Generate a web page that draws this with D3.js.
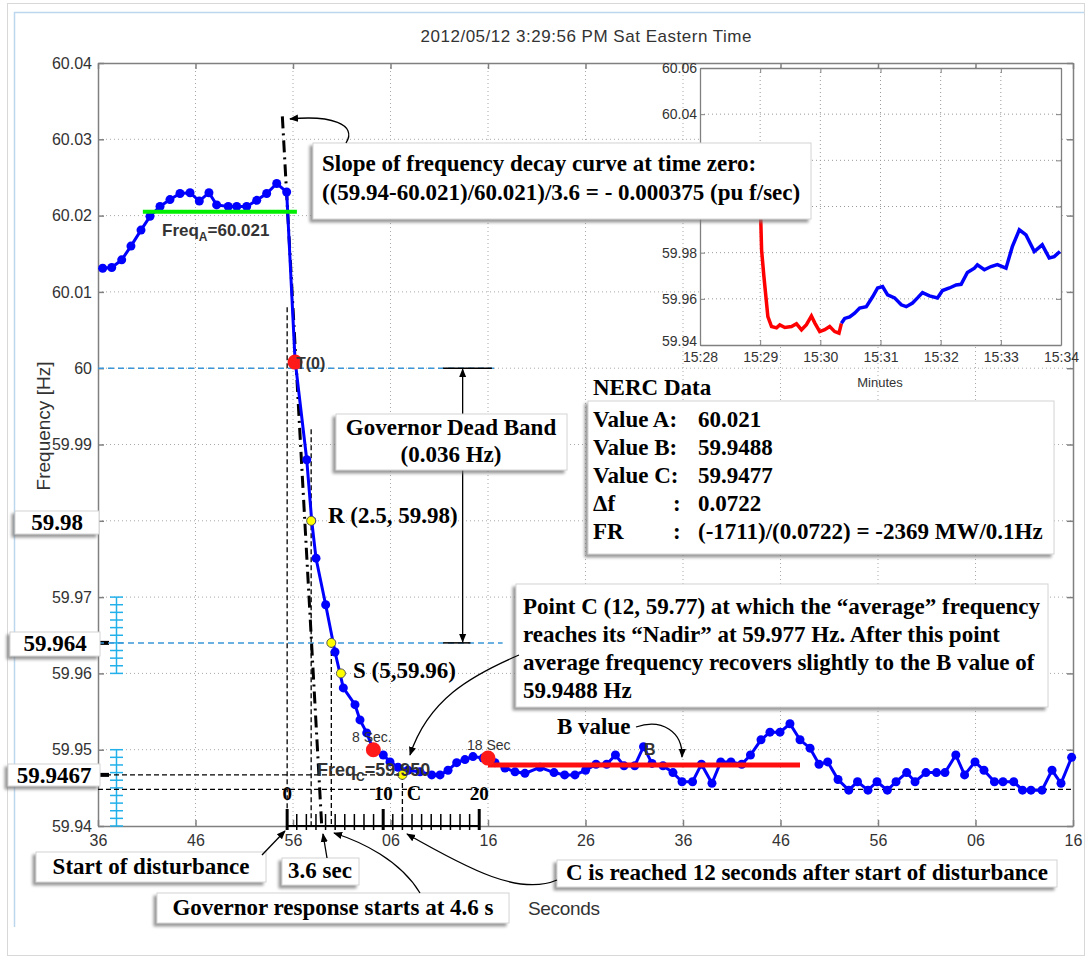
<!DOCTYPE html>
<html>
<head>
<meta charset="utf-8">
<script src="https://cdn.jsdelivr.net/npm/d3@7"></script>
<style>
body { margin: 0; background: #fff; }
.gray { font-family: "Liberation Sans", Arial, sans-serif; fill: #333; }
.serif { font-family: "Liberation Serif", "Times New Roman", serif; font-weight: bold; fill: #000; }
</style>
</head>
<body>
<svg id="chart" width="1090" height="960"></svg>
<script>
// main trace: seconds after 15:29:36 and frequency (Hz)
var mainTime = [0.48, 1.41, 2.43, 3.38, 4.41, 5.33, 6.36, 7.38, 8.41, 9.44,
    10.39, 11.38, 12.17, 13.36, 14.23, 15.25, 16.28, 17.30, 18.33, 19.35,
    20.21, 21.41, 21.92, 22.36, 23.35, 24.31, 25.16, 26.36, 26.87, 27.56,
    28.24, 29.26, 29.95, 30.77, 31.79, 33.03, 34.23, 35.08, 35.90, 36.79,
    37.64, 38.46, 39.49, 40.00, 40.72, 41.74, 42.77, 43.79, 45.33, 46.77,
    47.86, 48.92, 50.01, 51.08, 52.17, 53.07, 53.95, 55.05, 55.95, 56.82,
    57.95, 58.97, 59.90, 60.98, 61.89, 62.97, 63.87, 64.92, 66.03, 66.92,
    68.00, 68.92, 69.95, 70.97, 72.00, 73.03, 73.95, 74.84, 75.90, 77.00,
    77.90, 78.97, 79.90, 80.96, 81.85, 82.94, 83.80, 84.92, 86.00, 86.87,
    87.98, 88.88, 89.95, 90.87, 91.94, 92.82, 93.92, 94.82, 95.69, 96.82,
    97.85, 98.77, 99.86];
var mainFreq = [60.0131, 60.0132, 60.0142, 60.0160, 60.0181, 60.0199, 60.0212, 60.0221, 60.0229, 60.0230,
    60.0219, 60.0230, 60.0214, 60.0212, 60.0212, 60.0212, 60.0220, 60.0229, 60.0242, 60.0231,
    60.0011, 59.9880, 59.9800, 59.9751, 59.9690, 59.9628, 59.9581, 59.9559, 59.9539, 59.9522,
    59.9500, 59.9493, 59.9484, 59.9477, 59.9473, 59.9471, 59.9467, 59.9467, 59.9473, 59.9483,
    59.9487, 59.9491, 59.9489, 59.9489, 59.9483, 59.9476, 59.9471, 59.9469, 59.9477, 59.9470,
    59.9467, 59.9467, 59.9473, 59.9481, 59.9481, 59.9493, 59.9479, 59.9479, 59.9504, 59.9482,
    59.9479, 59.9470, 59.9458, 59.9458, 59.9481, 59.9456, 59.9484, 59.9484, 59.9481, 59.9493,
    59.9513, 59.9523, 59.9523, 59.9534, 59.9513, 59.9502, 59.9481, 59.9484, 59.9461, 59.9447,
    59.9458, 59.9447, 59.9458, 59.9447, 59.9458, 59.9470, 59.9458, 59.9470, 59.9470, 59.9470,
    59.9493, 59.9467, 59.9484, 59.9473, 59.9458, 59.9458, 59.9458, 59.9447, 59.9447, 59.9447,
    59.9473, 59.9456, 59.9490];

var xTickValues = [0, 10, 20, 30, 40, 50, 60, 70, 80, 90, 100];
var xTickLabels = ["36", "46", "56", "06", "16", "26", "36", "46", "56", "06", "16"];
var yTickValues = [59.94, 59.95, 59.96, 59.97, 59.98, 59.99, 60, 60.01, 60.02, 60.03, 60.04];
var yTickLabels = ["59.94", "59.95", "59.96", "59.97", "", "59.99", "60", "60.01", "60.02", "60.03", "60.04"]; // 59.98 sits under its box

// reference levels
var freqA = 60.0205, freqALine = [4.6, 20.4];
var freqB = 59.948, freqBLine = [40.0, 72.0];
var deadBandTop = 60.0, deadBandBottom = 59.964;
var valueC = 59.9467, lowLine = 59.9448;

// seconds-after-disturbance sub axis
var subTicks = d3.range(0, 21);
var subLabels = [0, 10, 20];
var redDots = [{t: 20.21, f: 60.0008}, {t: 28.24, f: 59.9500}, {t: 40.0, f: 59.9489}];
var yellowDots = [{s: 2.5, f: 59.98}, {s: 4.6, f: 59.964}, {s: 5.6, f: 59.96}, {s: 12, f: 59.9467}];

// inset: minutes after 15:28
var insetRedMin = [1.000, 1.007, 1.024, 1.061, 1.128, 1.189, 1.272, 1.327, 1.410, 1.521, 1.604, 1.687, 1.769, 1.852, 1.907, 1.990, 2.073, 2.156, 2.239, 2.310, 2.350];
var insetRedFreq = [60.021, 59.997, 59.981, 59.970, 59.9523, 59.948, 59.9474, 59.9487, 59.9476, 59.948, 59.9492, 59.9466, 59.9488, 59.9526, 59.9496, 59.9458, 59.9466, 59.948, 59.9458, 59.9451, 59.9494];
var insetBlueMin = [2.350, 2.405, 2.488, 2.570, 2.653, 2.764, 2.869, 2.952, 3.035, 3.118, 3.234, 3.345, 3.428, 3.532, 3.615, 3.698, 3.814, 3.947, 4.030, 4.146, 4.257, 4.340, 4.444, 4.561, 4.610, 4.726, 4.837, 4.942, 5.086, 5.191, 5.307, 5.418, 5.556, 5.688, 5.804, 5.887, 5.982];
var insetBlueFreq = [59.9494, 59.9515, 59.9522, 59.9538, 59.956, 59.9566, 59.9609, 59.9647, 59.9653, 59.9617, 59.9604, 59.9574, 59.9566, 59.9582, 59.9604, 59.9627, 59.9613, 59.9604, 59.9636, 59.9647, 59.966, 59.9663, 59.9714, 59.9733, 59.9747, 59.9726, 59.974, 59.9748, 59.9733, 59.9826, 59.9899, 59.9877, 59.9805, 59.9834, 59.9777, 59.9783, 59.9805];
var insetXTicks = [0, 1, 2, 3, 4, 5, 6];
var insetXLabels = ["15:28", "15:29", "15:30", "15:31", "15:32", "15:33", "15:34"];
var insetYTicks = [59.94, 59.96, 59.98, 60.00, 60.02, 60.04, 60.06];
var insetYLabels = ["59.94", "59.96", "59.98", "", "", "60.04", "60.06"]; // 60.00 and 60.02 hidden by the slope box

var svg = d3.select("#chart");
var defs = svg.append("defs");
defs.append("filter").attr("id", "shadow")
    .attr("x", "-10%").attr("y", "-20%").attr("width", "120%").attr("height", "150%")
    .append("feDropShadow")
    .attr("dx", -3).attr("dy", 3).attr("stdDeviation", 1.8)
    .attr("flood-color", "#777").attr("flood-opacity", 0.75);
defs.append("marker").attr("id", "arrow")
    .attr("viewBox", "0 0 10 10").attr("refX", 9).attr("refY", 5)
    .attr("markerWidth", 9).attr("markerHeight", 9).attr("markerUnits", "userSpaceOnUse")
    .attr("orient", "auto-start-reverse")
    .append("path").attr("d", "M0,1 L10,5 L0,9 z").attr("fill", "#000");

// page frame
svg.append("rect").attr("x", 7.5).attr("y", 3.5).attr("width", 1077).attr("height", 952)
    .attr("fill", "none").attr("stroke", "#d8d8d8");
svg.append("path").attr("d", "M14.5,927 L14.5,12.5 L1084,12.5")
    .attr("fill", "none").attr("stroke", "#bcd6ee").attr("stroke-width", 1.5);

svg.append("text").attr("class", "gray").attr("x", 586).attr("y", 42)
    .attr("text-anchor", "middle").attr("font-size", 17).attr("textLength", 331)
    .text("2012/05/12  3:29:56 PM Sat Eastern Time");

var x = d3.scaleLinear().domain([0, 100]).range([98, 1073]);
var y = d3.scaleLinear().domain([59.94, 60.04]).range([826, 63]);
var xSub = d3.scaleLinear().domain([0, 20]).range([x(19.4), x(39.1)]);

// grid
var grid = svg.append("g").attr("stroke", "#a8a8a8").attr("stroke-dasharray", "1,3");
grid.selectAll(".vg").data(xTickValues.slice(1, -1)).enter().append("line")
    .attr("x1", function(d){ return x(d); }).attr("x2", function(d){ return x(d); })
    .attr("y1", y(60.04)).attr("y2", y(59.94));
grid.selectAll(".hg").data(yTickValues.slice(1, -1)).enter().append("line")
    .attr("x1", x(0)).attr("x2", x(100))
    .attr("y1", function(d){ return y(d); }).attr("y2", function(d){ return y(d); });

function styleAxis(g) {
    g.select(".domain").attr("stroke", "#808080").attr("stroke-width", 1.5);
    g.selectAll(".tick line").attr("stroke", "#808080").attr("stroke-width", 1.5);
    g.selectAll("text").attr("class", "gray").attr("font-size", 16).attr("fill", "#2a2a2a");
}
svg.append("g").attr("transform", "translate(0," + y(59.94) + ")")
    .call(d3.axisBottom(x).tickValues(xTickValues).tickFormat(function(d, i){ return xTickLabels[i]; })
        .tickSizeInner(-6).tickSizeOuter(0).tickPadding(9))
    .call(styleAxis);
svg.append("g").attr("transform", "translate(0," + y(60.04) + ")")
    .call(d3.axisTop(x).tickValues(xTickValues).tickFormat("").tickSizeInner(-6).tickSizeOuter(0))
    .call(styleAxis);
svg.append("g").attr("transform", "translate(" + x(0) + ",0)")
    .call(d3.axisLeft(y).tickValues(yTickValues).tickFormat(function(d, i){ return yTickLabels[i]; })
        .tickSizeInner(-6).tickSizeOuter(0).tickPadding(6))
    .call(styleAxis);
svg.append("g").attr("transform", "translate(" + x(100) + ",0)")
    .call(d3.axisRight(y).tickValues(yTickValues).tickFormat("").tickSizeInner(-6).tickSizeOuter(0))
    .call(styleAxis);

svg.append("text").attr("class", "gray").attr("transform", "translate(50,426) rotate(-90)")
    .attr("text-anchor", "middle").attr("font-size", 19).attr("fill", "#444").text("Frequency [Hz]");
svg.append("text").attr("class", "gray").attr("x", 564).attr("y", 915)
    .attr("text-anchor", "middle").attr("font-size", 19).attr("fill", "#444").attr("textLength", 72)
    .text("Seconds");

// cyan fine scales on the y axis
var cyan = "#22b0ea";
[[59.96, 59.97], [59.94, 59.95]].forEach(function(r){
    var g = svg.append("g").attr("stroke", cyan).attr("stroke-width", 1.5);
    g.append("line").attr("x1", 116.5).attr("x2", 116.5).attr("y1", y(r[0])).attr("y2", y(r[1]));
    g.selectAll("line.t").data(d3.range(0, 11)).enter().append("line")
        .attr("x1", 110).attr("x2", 123)
        .attr("y1", function(d){ return y(r[0] + d * 0.001); })
        .attr("y2", function(d){ return y(r[0] + d * 0.001); });
});
[deadBandBottom, valueC].forEach(function(v){
    svg.append("rect").attr("x", 100).attr("y", y(v) - 2).attr("width", 9).attr("height", 4).attr("fill", "#000");
});

// reference lines
svg.append("line").attr("x1", x(0)).attr("x2", x(40.7)).attr("y1", y(deadBandTop)).attr("y2", y(deadBandTop))
    .attr("stroke", "#3a96d6").attr("stroke-width", 1.5).attr("stroke-dasharray", "6,4");
svg.append("line").attr("x1", x(0)).attr("x2", x(41.5)).attr("y1", y(deadBandBottom)).attr("y2", y(deadBandBottom))
    .attr("stroke", "#3a96d6").attr("stroke-width", 1.5).attr("stroke-dasharray", "6,4");
svg.append("line").attr("x1", x(0)).attr("x2", xSub(12)).attr("y1", y(valueC)).attr("y2", y(valueC))
    .attr("stroke", "#000").attr("stroke-width", 1.3).attr("stroke-dasharray", "5,3");
svg.append("line").attr("x1", x(0)).attr("x2", x(100)).attr("y1", y(lowLine)).attr("y2", y(lowLine))
    .attr("stroke", "#000").attr("stroke-width", 1.3).attr("stroke-dasharray", "5,3");

var vDash = [{s: 0, top: 60.008}, {s: 2.5, top: 59.992}, {s: 4.6, top: 59.964}, {s: 12, top: valueC}];
svg.selectAll(".vdash").data(vDash).enter().append("line")
    .attr("x1", function(d){ return xSub(d.s); }).attr("x2", function(d){ return xSub(d.s); })
    .attr("y1", function(d){ return y(d.top); }).attr("y2", y(59.94))
    .attr("stroke", "#000").attr("stroke-width", 1.3).attr("stroke-dasharray", "5,3");

// slope line at time zero
svg.append("line").attr("x1", xSub(-0.5)).attr("y1", y(60.033)).attr("x2", xSub(3.6)).attr("y2", y(59.94))
    .attr("stroke", "#000").attr("stroke-width", 3).attr("stroke-dasharray", "12,5,2,5");

// dead band dimension
svg.append("line").attr("x1", x(35.4)).attr("x2", x(40.4)).attr("y1", y(deadBandTop)).attr("y2", y(deadBandTop))
    .attr("stroke", "#000").attr("stroke-width", 1.5);
svg.append("line").attr("x1", x(35.4)).attr("x2", x(38.2)).attr("y1", y(deadBandBottom)).attr("y2", y(deadBandBottom))
    .attr("stroke", "#000").attr("stroke-width", 1.5);
svg.append("line").attr("x1", x(37.4)).attr("x2", x(37.4)).attr("y1", y(deadBandTop) + 1).attr("y2", y(deadBandBottom) - 1)
    .attr("stroke", "#000").attr("stroke-width", 1.3)
    .attr("marker-start", "url(#arrow)").attr("marker-end", "url(#arrow)");

// sub axis (seconds after disturbance)
var sub = svg.append("g");
sub.append("line").attr("x1", xSub(0)).attr("x2", xSub(20)).attr("y1", y(59.94)).attr("y2", y(59.94))
    .attr("stroke", "#000").attr("stroke-width", 2);
sub.selectAll(".st").data(subTicks).enter().append("line")
    .attr("x1", function(d){ return xSub(d); }).attr("x2", function(d){ return xSub(d); })
    .attr("y1", function(d){ return d % 10 === 0 ? 809 : 814; }).attr("y2", 830)
    .attr("stroke", "#000").attr("stroke-width", function(d){ return d % 10 === 0 ? 3 : 1.5; });
sub.selectAll(".sl").data(subLabels).enter().append("text").attr("class", "serif")
    .attr("x", function(d){ return xSub(d); }).attr("y", 800).attr("text-anchor", "middle")
    .attr("font-size", 19).text(function(d){ return d; });
svg.append("text").attr("class", "serif").attr("x", xSub(13.2)).attr("y", 800).attr("text-anchor", "middle")
    .attr("font-size", 20).text("C");

// main trace
var pts = mainTime.map(function(t, i){ return [t, mainFreq[i]]; });
svg.append("path").datum(pts)
    .attr("d", d3.line().x(function(d){ return x(d[0]); }).y(function(d){ return y(d[1]); }))
    .attr("fill", "none").attr("stroke", "#0000ff").attr("stroke-width", 3);
svg.selectAll(".dot").data(pts).enter().append("circle")
    .attr("cx", function(d){ return x(d[0]); }).attr("cy", function(d){ return y(d[1]); })
    .attr("r", 4.5).attr("fill", "#0000ff");

// value A and B lines
svg.append("line").attr("x1", x(freqALine[0])).attr("x2", x(freqALine[1])).attr("y1", y(freqA)).attr("y2", y(freqA))
    .attr("stroke", "#00ee00").attr("stroke-width", 4);
svg.append("line").attr("x1", x(freqBLine[0])).attr("x2", x(freqBLine[1])).attr("y1", y(freqB)).attr("y2", y(freqB))
    .attr("stroke", "#ff1010").attr("stroke-width", 5);

svg.selectAll(".rd").data(redDots).enter().append("circle")
    .attr("cx", function(d){ return x(d.t); }).attr("cy", function(d){ return y(d.f); })
    .attr("r", 7.5).attr("fill", "#ff1a1a");
svg.selectAll(".yd").data(yellowDots).enter().append("circle")
    .attr("cx", function(d){ return xSub(d.s); }).attr("cy", function(d){ return y(d.f); })
    .attr("r", 4.5).attr("fill", "#ffff00").attr("stroke", "#555").attr("stroke-width", 1);

// gray labels on the trace
var fa = svg.append("text").attr("class", "gray").attr("x", 162).attr("y", 236)
    .attr("font-size", 17).attr("font-weight", "bold").attr("fill", "#222");
fa.append("tspan").text("Freq");
fa.append("tspan").attr("font-size", 12).attr("dy", 5).text("A");
fa.append("tspan").attr("dy", -5).text("=60.021");
svg.append("text").attr("class", "gray").attr("x", 296).attr("y", 369)
    .attr("font-size", 16).attr("font-weight", "bold").attr("fill", "#444").text("T(0)");
svg.append("text").attr("class", "gray").attr("x", 352).attr("y", 742).attr("font-size", 14).text("8 Sec.");
svg.append("text").attr("class", "gray").attr("x", 467).attr("y", 750).attr("font-size", 14).text("18 Sec");
var fc = svg.append("text").attr("class", "gray").attr("x", 317).attr("y", 776)
    .attr("font-size", 18).attr("font-weight", "bold").attr("fill", "#222");
fc.append("tspan").text("Freq");
fc.append("tspan").attr("font-size", 12).attr("dy", 5).text("C");
fc.append("tspan").attr("dy", -5).text("=59.950");
svg.append("text").attr("class", "gray").attr("x", 644).attr("y", 755)
    .attr("font-size", 16).attr("font-weight", "bold").attr("fill", "#444").text("B");

// inset chart
var ix = d3.scaleLinear().domain([0, 6]).range([700, 1061]);
var iy = d3.scaleLinear().domain([59.94, 60.06]).range([345, 68]);
var inset = svg.append("g");
inset.append("rect").attr("x", ix(0)).attr("y", iy(60.06)).attr("width", ix(6) - ix(0)).attr("height", iy(59.94) - iy(60.06))
    .attr("fill", "#fff");
var igrid = inset.append("g").attr("stroke", "#999").attr("stroke-dasharray", "1,3");
igrid.selectAll(".v").data(insetXTicks.slice(1, -1)).enter().append("line")
    .attr("x1", function(d){ return ix(d); }).attr("x2", function(d){ return ix(d); })
    .attr("y1", iy(60.06)).attr("y2", iy(59.94));
igrid.selectAll(".h").data(insetYTicks.slice(1, -1)).enter().append("line")
    .attr("x1", ix(0)).attr("x2", ix(6))
    .attr("y1", function(d){ return iy(d); }).attr("y2", function(d){ return iy(d); });
function styleInset(g) {
    g.select(".domain").attr("stroke", "#808080").attr("stroke-width", 1.3);
    g.selectAll(".tick line").attr("stroke", "#808080");
    g.selectAll("text").attr("class", "gray").attr("font-size", 14).attr("fill", "#333");
}
inset.append("g").attr("transform", "translate(0," + iy(59.94) + ")")
    .call(d3.axisBottom(ix).tickValues(insetXTicks).tickFormat(function(d, i){ return insetXLabels[i]; })
        .tickSizeInner(-5).tickSizeOuter(0).tickPadding(7)).call(styleInset);
inset.append("g").attr("transform", "translate(0," + iy(60.06) + ")")
    .call(d3.axisTop(ix).tickValues(insetXTicks).tickFormat("").tickSizeInner(-5).tickSizeOuter(0)).call(styleInset);
var iyAxis = inset.append("g").attr("transform", "translate(" + ix(0) + ",0)")
    .call(d3.axisLeft(iy).tickValues(insetYTicks).tickFormat(function(d, i){ return insetYLabels[i]; })
        .tickSizeInner(-5).tickSizeOuter(0).tickPadding(3)).call(styleInset);
// lift the lowest label clear of the 15:28 label
iyAxis.selectAll(".tick").filter(function(d){ return d === 59.94; }).select("text").attr("dy", "0.05em");
inset.append("g").attr("transform", "translate(" + ix(6) + ",0)")
    .call(d3.axisRight(iy).tickValues(insetYTicks).tickFormat("").tickSizeInner(-5).tickSizeOuter(0)).call(styleInset);
inset.append("text").attr("class", "gray").attr("x", 880).attr("y", 387).attr("text-anchor", "middle")
    .attr("font-size", 13).attr("fill", "#444").text("Minutes");
var iline = d3.line().x(function(d){ return ix(d[0]); }).y(function(d){ return iy(d[1]); });
inset.append("path").datum(insetRedMin.map(function(m, i){ return [m, insetRedFreq[i]]; }))
    .attr("d", iline).attr("fill", "none").attr("stroke", "#ff0000").attr("stroke-width", 3.5);
inset.append("path").datum(insetBlueMin.map(function(m, i){ return [m, insetBlueFreq[i]]; }))
    .attr("d", iline).attr("fill", "none").attr("stroke", "#0000ff").attr("stroke-width", 3.5);

// annotation boxes
function box(bx, by, w, h) {
    svg.append("rect").attr("x", bx).attr("y", by).attr("width", w).attr("height", h)
        .attr("fill", "#fff").attr("stroke", "#d4d4d4").attr("filter", "url(#shadow)");
}
function stext(tx, ty, str, size, anchor) {
    return svg.append("text").attr("class", "serif").attr("x", tx).attr("y", ty)
        .attr("font-size", size || 23).attr("text-anchor", anchor || "start").text(str);
}
function arrow(d) {
    svg.append("path").attr("d", d).attr("fill", "none").attr("stroke", "#000").attr("stroke-width", 1.3)
        .attr("marker-end", "url(#arrow)");
}

box(15, 511, 84, 23); stext(57, 530, "59.98", 23, "middle");
box(10, 632, 90, 24); stext(55, 651, "59.964", 23, "middle");
box(8, 764, 92, 22); stext(54, 783, "59.9467", 23, "middle");

box(313, 143, 498, 76);
stext(322, 171, "Slope of frequency decay curve at time zero:");
stext(322, 200, "((59.94-60.021)/60.021)/3.6 = - 0.000375 (pu f/sec)");
arrow("M346,143 C358,124 330,115 290,119");

box(336, 414, 231, 56);
stext(451, 435, "Governor Dead Band", 23, "middle");
stext(451, 462, "(0.036 Hz)", 23, "middle");

stext(328, 523, "R (2.5, 59.98)");
stext(353, 678, "S (5,59.96)");

stext(593, 395, "NERC Data");
box(588, 401, 466, 153);
var nercLabels = ["Value A:", "Value B:", "Value C:", "\u0394f", "FR"];
var nercValues = ["60.021", "59.9488", "59.9477", "0.0722", "(-1711)/(0.0722) = -2369 MW/0.1Hz"];
nercLabels.forEach(function(l, i){
    var ty = 427 + i * 28;
    stext(593, ty, l);
    if (i > 2) stext(673, ty, ":");
    stext(698, ty, nercValues[i]);
});

box(516, 584, 532, 123);
["Point C (12, 59.77) at which the \u201caverage\u201d frequency",
 "reaches its \u201cNadir\u201d at 59.977 Hz. After this point",
 "average frequency recovers slightly to the B value of",
 "59.9488 Hz"].forEach(function(l, i){ stext(523, 614 + i * 28, l); });
arrow("M519,655 C470,676 428,700 410,755");

stext(557, 734, "B value");
arrow("M636,727 C662,718 683,732 682,757");

box(36, 852, 230, 30); stext(151, 874, "Start of disturbance", 23, "middle");
arrow("M262,855 L285,831");
box(282, 858, 77, 27); stext(320, 878, "3.6 sec", 23, "middle");
arrow("M327,858 L323,834");
box(157, 893, 352, 30); stext(333, 915, "Governor response starts at 4.6 s", 23, "middle");
arrow("M420,893 C400,860 362,842 334,833");
box(557, 860, 500, 27); stext(807, 880, "C is reached 12 seconds after start of disturbance", 23, "middle");
arrow("M557,880 C520,896 470,870 407,834");
</script>
</body>
</html>
